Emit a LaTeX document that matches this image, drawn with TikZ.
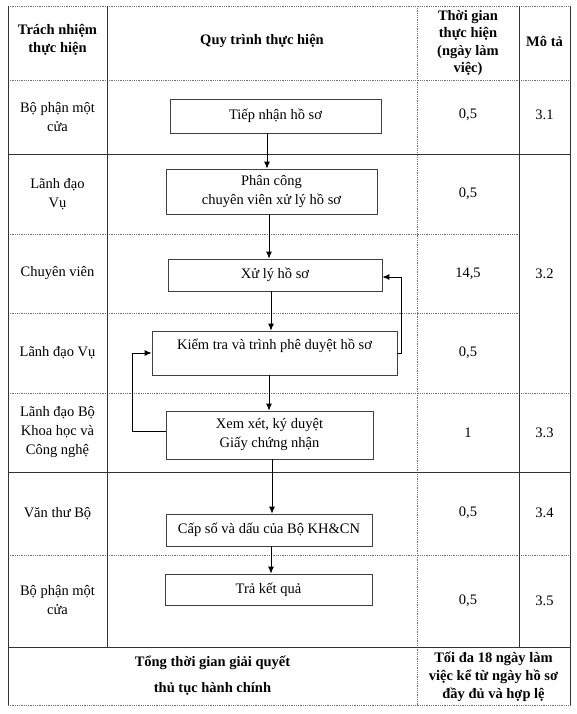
\documentclass[tikz,border=0pt]{standalone}
\usepackage{fontspec}
\setmainfont{Liberation Serif}
\usetikzlibrary{arrows.meta}
\begin{document}
\begin{tikzpicture}[x=1pt,y=-1pt,
  solidln/.style={draw=black!80, line width=0.8pt},
  dotln/.style={draw=black!55, line width=0.8pt, densely dotted},
  box/.style={draw=black!75, line width=0.7pt, inner sep=0pt, align=center, font=\fontsize{14.5}{19}\selectfont},
  txt/.style={align=center, font=\fontsize{14.5}{19}\selectfont, inner sep=0pt},
  hdr/.style={align=center, font=\fontsize{14.5}{17.5}\selectfont\bfseries, inner sep=0pt},
  arr/.style={-{Latex[length=7pt,width=6pt]}, line width=0.9pt, black}]
\useasboundingbox (0,0) rectangle (576,714);
% table lines
\draw[dotln] (8,6) -- (570,6);
\draw[dotln] (8,80) -- (570,80);
\draw[dotln] (8,234) -- (519,234);
\draw[dotln] (8,313) -- (519,313);
\draw[dotln] (8,393) -- (570,393);
\draw[dotln] (8,555) -- (570,555);
\draw[dotln] (8,705) -- (570,705);
\draw[dotln] (417,6) -- (417,705);
\draw[solidln] (8,154) -- (570,154);
\draw[solidln] (8,472) -- (570,472);
\draw[solidln] (8,647) -- (570,647);
\draw[solidln] (8,6) -- (8,705);
\draw[solidln] (107,6) -- (107,647);
\draw[solidln] (519,6) -- (519,647);
\draw[solidln] (570,6) -- (570,705);
% header
\node[hdr] (h1) at (57.5,40) {Trách nhiệm\\thực hiện};
\node[hdr] (h2) at (262,41) {Quy trình thực hiện};
\node[hdr] (h3) at (468,43) {Thời gian\\thực hiện\\(ngày làm\\việc)};
\node[hdr] (h4) at (544.5,41) {Mô tả};
% left column
\node[txt] (r1) at (57.5,117) {Bộ phận một\\cửa};
\node[txt] (r2) at (57.5,194) {Lãnh đạo\\Vụ};
\node[txt] (r3) at (57.5,273.5) {Chuyên viên};
\node[txt] (r4) at (57.5,353) {Lãnh đạo Vụ};
\node[txt] (r5) at (57.5,432.5) {Lãnh đạo Bộ\\Khoa học và\\Công nghệ};
\node[txt] (r6) at (57.5,514) {Văn thư Bộ};
\node[txt] (r7) at (57.5,600.5) {Bộ phận một\\cửa};
% time column
\node[txt] (t1) at (468,115) {0,5};
\node[txt] (t2) at (468,194) {0,5};
\node[txt] (t3) at (468,273.5) {14,5};
\node[txt] (t4) at (468,353) {0,5};
\node[txt] (t5) at (468,432.5) {1};
\node[txt] (t6) at (468,513) {0,5};
\node[txt] (t7) at (468,600.5) {0,5};
% description column
\node[txt] (d1) at (544.5,115) {3.1};
\node[txt] (d2) at (544.5,273.5) {3.2};
\node[txt] (d3) at (544.5,432.5) {3.3};
\node[txt] (d4) at (544.5,513) {3.4};
\node[txt] (d5) at (544.5,600.5) {3.5};
% total row
\node[hdr, font=\fontsize{14.5}{26}\selectfont\bfseries] (tot) at (212.5,676) {Tổng thời gian giải quyết\\thủ tục hành chính};
\node[hdr, font=\fontsize{14.5}{18}\selectfont\bfseries] (max) at (493.5,677) {Tối đa 18 ngày làm\\việc kể từ ngày hồ sơ\\đầy đủ và hợp lệ};
% process boxes
\node[box, minimum width=211pt, minimum height=34pt] (tn) at (275.5,116) {Tiếp nhận hồ sơ};
\node[box, minimum width=211pt, minimum height=45pt] (pc) at (271.5,191.5) {Phân công\\chuyên viên xử lý hồ sơ};
\node[box, minimum width=214pt, minimum height=32pt] (xl) at (275,275) {Xử lý hồ sơ};
\node[box, minimum width=245pt, minimum height=44pt] (kt) at (274.5,353) {\raisebox{7pt}[\height][\depth]{Kiểm tra và trình phê duyệt hồ sơ}};
\node[box, minimum width=207pt, minimum height=48pt] (xx) at (269.5,435) {Xem xét, ký duyệt\\Giấy chứng nhận};
\node[box, minimum width=206pt, minimum height=32pt] (cs) at (269,530) {Cấp số và dấu của Bộ KH\&CN};
\node[box, minimum width=207pt, minimum height=31pt] (tk) at (268.5,589.5) {Trả kết quả};
% arrows
\draw[arr] ([xshift=-8.5pt]tn.south) -- ([xshift=-8.5pt]tn.south |- pc.north);
\draw[arr] ([xshift=-2.5pt]pc.south) -- ([xshift=-2.5pt]pc.south |- xl.north);
\draw[arr] ([xshift=-4pt]xl.south) -- ([xshift=-4pt]xl.south |- kt.north);
\draw[arr] ([xshift=-5.5pt]kt.south) -- ([xshift=-5.5pt]kt.south |- xx.north);
\draw[arr] ([xshift=2.5pt]xx.south) -- ([xshift=2.5pt]xx.south |- cs.north);
\draw[arr] ([xshift=2pt]cs.south) -- ([xshift=2pt]cs.south |- tk.north);
\draw[arr] (kt.east) -- ++(4,0) |- ([yshift=-2pt]xl.east);
\draw[arr] ([yshift=4pt]xx.west) -- ++(-33,0) |- (kt.west);
\end{tikzpicture}
\end{document}
